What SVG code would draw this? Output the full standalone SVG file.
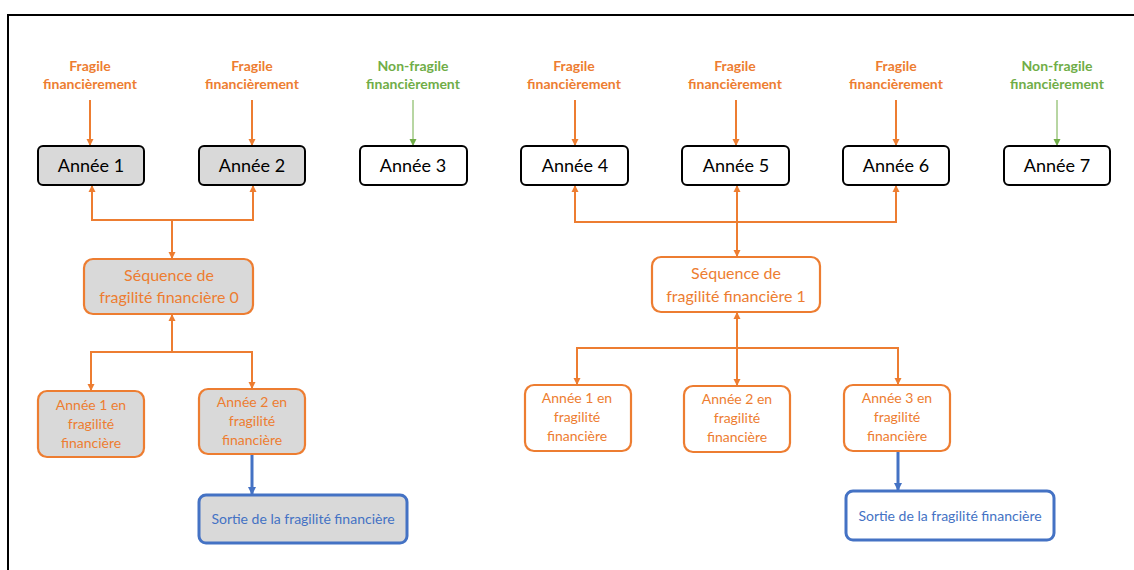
<svg xmlns="http://www.w3.org/2000/svg" width="1134" height="570" viewBox="0 0 1134 570">
<style>
  text { font-family: Lato, "Noto Sans", sans-serif; text-anchor: middle; }
  .lbl { font-size: 14px; font-weight: bold; }
  .or { fill: #ED7D31; }
  .gr { fill: #70AD47; }
  .bl { fill: #4472C4; }
  .yr { font-size: 18px; fill: #000; }
  .seq { font-size: 16px; fill: #ED7D31; }
  .sm { font-size: 14px; fill: #ED7D31; }
  .out { font-size: 14px; fill: #4472C4; }
  .ybox { stroke: #000; stroke-width: 2; }
  .obox { stroke: #ED7D31; stroke-width: 2.2; }
  .bbox { stroke: #4472C4; stroke-width: 3; }
  .gfill { fill: #D9D9D9; }
  .wfill { fill: #FFFFFF; }
  .oline { fill: none; stroke: #ED7D31; stroke-width: 2; }
  .gline { fill: none; stroke: #70AD47; stroke-width: 1; }
  .bline { fill: none; stroke: #4472C4; stroke-width: 3; }
</style>
<defs>
  <marker id="ao" markerUnits="userSpaceOnUse" markerWidth="10" markerHeight="10" refX="8" refY="5" orient="auto-start-reverse">
    <path d="M1,1.5 L8,5 L1,8.5 Z" fill="#ED7D31"/>
  </marker>
  <marker id="ag" markerUnits="userSpaceOnUse" markerWidth="10" markerHeight="10" refX="8" refY="5" orient="auto">
    <path d="M1,1.5 L8,5 L1,8.5 Z" fill="#70AD47"/>
  </marker>
  <marker id="ab" markerUnits="userSpaceOnUse" markerWidth="12" markerHeight="12" refX="9" refY="6" orient="auto">
    <path d="M1,2 L9,6 L1,10 Z" fill="#4472C4"/>
  </marker>
</defs>
<rect width="1134" height="570" fill="#FFFFFF"/>
<g id="frame">
  <path d="M8,570 V15 H1134" fill="none" stroke="#000" stroke-width="2"/>
</g>

<g id="labels">
  <text class="lbl or" x="90" y="71">Fragile</text>
  <text class="lbl or" x="90" y="89">financièrement</text>
  <text class="lbl or" x="252" y="71">Fragile</text>
  <text class="lbl or" x="252" y="89">financièrement</text>
  <text class="lbl gr" x="413" y="71">Non-fragile</text>
  <text class="lbl gr" x="413" y="89">financièrement</text>
  <text class="lbl or" x="574" y="71">Fragile</text>
  <text class="lbl or" x="574" y="89">financièrement</text>
  <text class="lbl or" x="735" y="71">Fragile</text>
  <text class="lbl or" x="735" y="89">financièrement</text>
  <text class="lbl or" x="896" y="71">Fragile</text>
  <text class="lbl or" x="896" y="89">financièrement</text>
  <text class="lbl gr" x="1057" y="71">Non-fragile</text>
  <text class="lbl gr" x="1057" y="89">financièrement</text>
</g>

<g id="connectors">
  <line class="oline" x1="90" y1="100" x2="90" y2="146" marker-end="url(#ao)"/>
  <line class="oline" x1="252" y1="100" x2="252" y2="146" marker-end="url(#ao)"/>
  <line class="gline" x1="413" y1="100" x2="413" y2="146" marker-end="url(#ag)"/>
  <line class="oline" x1="575" y1="100" x2="575" y2="146" marker-end="url(#ao)"/>
  <line class="oline" x1="736" y1="100" x2="736" y2="146" marker-end="url(#ao)"/>
  <line class="oline" x1="896" y1="100" x2="896" y2="146" marker-end="url(#ao)"/>
  <line class="gline" x1="1057" y1="100" x2="1057" y2="146" marker-end="url(#ag)"/>

  <path class="oline" d="M92,185 V220 H253 V185" marker-start="url(#ao)" marker-end="url(#ao)"/>
  <line class="oline" x1="172" y1="220" x2="172" y2="259" marker-end="url(#ao)"/>
  <line class="oline" x1="172" y1="352" x2="172" y2="314" marker-end="url(#ao)"/>
  <path class="oline" d="M91,391 V352 H252 V389" marker-start="url(#ao)" marker-end="url(#ao)"/>
  <line class="bline" x1="252" y1="455" x2="252" y2="495" marker-end="url(#ab)"/>

  <path class="oline" d="M575,185 V222 H896 V185" marker-start="url(#ao)" marker-end="url(#ao)"/>
  <line class="oline" x1="737" y1="185" x2="737" y2="257" marker-start="url(#ao)" marker-end="url(#ao)"/>
  <path class="oline" d="M577,385 V348 H898 V385" marker-start="url(#ao)" marker-end="url(#ao)"/>
  <line class="oline" x1="737" y1="312" x2="737" y2="386" marker-start="url(#ao)" marker-end="url(#ao)"/>
  <line class="bline" x1="898" y1="452" x2="898" y2="491" marker-end="url(#ab)"/>
</g>

<g id="annee1"><rect class="ybox gfill" x="38" y="146" width="106" height="39" rx="5"/><text class="yr" x="91" y="172">Année 1</text></g>
<g id="annee2"><rect class="ybox gfill" x="199" y="146" width="106" height="39" rx="5"/><text class="yr" x="252" y="172">Année 2</text></g>
<g id="annee3"><rect class="ybox wfill" x="360" y="146" width="107" height="39" rx="5"/><text class="yr" x="413" y="172">Année 3</text></g>
<g id="annee4"><rect class="ybox wfill" x="521" y="146" width="107" height="39" rx="5"/><text class="yr" x="575" y="172">Année 4</text></g>
<g id="annee5"><rect class="ybox wfill" x="682" y="146" width="107" height="39" rx="5"/><text class="yr" x="736" y="172">Année 5</text></g>
<g id="annee6"><rect class="ybox wfill" x="843" y="146" width="106" height="39" rx="5"/><text class="yr" x="896" y="172">Année 6</text></g>
<g id="annee7"><rect class="ybox wfill" x="1004" y="146" width="106" height="39" rx="5"/><text class="yr" x="1057" y="172">Année 7</text></g>

<g id="seq0"><rect class="obox gfill" x="84" y="259" width="169" height="55" rx="9"/>
  <text class="seq" x="169" y="281">Séquence de</text>
  <text class="seq" x="169" y="303">fragilité financière 0</text></g>
<g id="seq1"><rect class="obox wfill" x="652" y="257" width="168" height="55" rx="9"/>
  <text class="seq" x="736" y="279">Séquence de</text>
  <text class="seq" x="736" y="302">fragilité financière 1</text></g>

<g id="l-a1"><rect class="obox gfill" x="38" y="391" width="106" height="66" rx="9"/>
  <text class="sm" x="91" y="410">Année 1 en</text>
  <text class="sm" x="91" y="429">fragilité</text>
  <text class="sm" x="91" y="448">financière</text></g>
<g id="l-a2"><rect class="obox gfill" x="199" y="389" width="106" height="65" rx="9"/>
  <text class="sm" x="252" y="407">Année 2 en</text>
  <text class="sm" x="252" y="426">fragilité</text>
  <text class="sm" x="252" y="445">financière</text></g>
<g id="l-out"><rect class="bbox gfill" x="199" y="495" width="208" height="48" rx="7"/>
  <text class="out" x="303" y="524">Sortie de la fragilité financière</text></g>

<g id="r-a1"><rect class="obox wfill" x="525" y="385" width="106" height="66" rx="9"/>
  <text class="sm" x="577" y="403">Année 1 en</text>
  <text class="sm" x="577" y="422">fragilité</text>
  <text class="sm" x="577" y="441">financière</text></g>
<g id="r-a2"><rect class="obox wfill" x="684" y="386" width="106" height="66" rx="9"/>
  <text class="sm" x="737" y="404">Année 2 en</text>
  <text class="sm" x="737" y="423">fragilité</text>
  <text class="sm" x="737" y="442">financière</text></g>
<g id="r-a3"><rect class="obox wfill" x="844" y="385" width="106" height="66" rx="9"/>
  <text class="sm" x="897" y="403">Année 3 en</text>
  <text class="sm" x="897" y="422">fragilité</text>
  <text class="sm" x="897" y="441">financière</text></g>
<g id="r-out"><rect class="bbox wfill" x="846" y="491" width="208" height="49" rx="7"/>
  <text class="out" x="950" y="521">Sortie de la fragilité financière</text></g>
</svg>
